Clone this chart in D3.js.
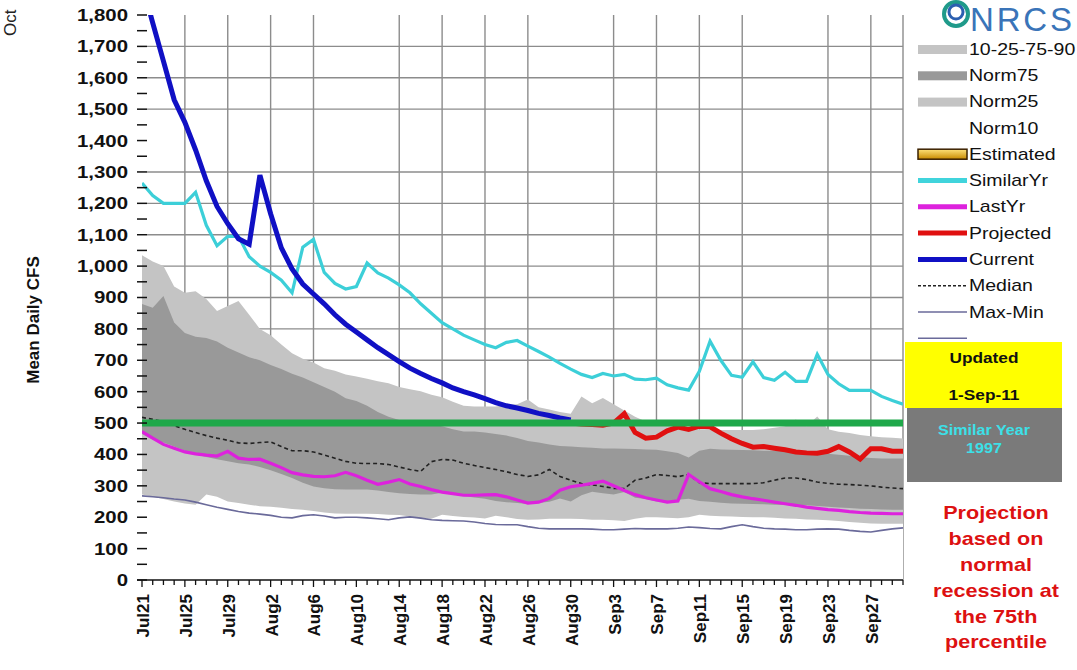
<!DOCTYPE html>
<html><head><meta charset="utf-8">
<script src="https://cdn.jsdelivr.net/npm/d3@7"></script>
<style>
body{margin:0;background:#fff;}
svg{display:block;font-family:"Liberation Sans",Arial,sans-serif;}
</style></head>
<body><svg id="c" width="1077" height="670"></svg>
<script>
// ---- data (day index 0 = Jul21 ... 71 = Sep30) ----
const startDate = new Date(2011, 6, 21);
const dayCount = 72;
const tickLabels = ["Jul21","Jul25","Jul29","Aug2","Aug6","Aug10","Aug14","Aug18","Aug22","Aug26","Aug30","Sep3","Sep7","Sep11","Sep15","Sep19","Sep23","Sep27"];
const yTicks = [0,100,200,300,400,500,600,700,800,900,1000,1100,1200,1300,1400,1500,1600,1700,1800];
const yGrid = [700,800,900,1000,1100,1200,1300,1500,1600,1700];
const xGrid = [4,8,12,16,24,28,32,36,44,48,52,56,64,68,71];

const p90 = [1035,1015,1000,935,915,920,895,857,873,889,845,800,780,750,722,705,693,675,667,655,648,641,633,627,615,608,601,590,582,568,555,553,553,553,558,560,575,550,543,535,530,585,563,580,560,540,520,505,500,495,490,485,480,480,478,478,478,478,480,485,490,511,490,521,480,472,468,462,458,455,453,451];
const p75 = [879,867,905,820,787,775,771,760,740,725,710,700,685,672,657,645,630,615,600,579,570,555,535,520,510,505,500,495,490,480,473,473,470,465,460,452,443,438,432,427,425,423,421,419,419,418,417,416,415,410,405,390,412,418,416,415,414,413,412,412,411,410,409,406,402,399,396,392,389,387,387,387];
const p25 = [465,448,438,425,412,400,392,385,378,372,368,360,350,338,325,310,298,292,289,288,288,288,285,280,276,274,272,272,278,272,268,263,259,252,248,245,242,245,249,260,250,270,281,276,272,280,262,258,250,252,256,259,252,249,246,244,243,242,241,240,240,240,238,236,233,231,229,227,226,225,224,224];
const p10 = [272,265,258,250,244,240,272,265,250,245,240,235,233,230,226,224,220,215,212,211,211,211,210,208,207,202,197,195,208,204,201,199,196,205,200,194,192,193,195,195,195,194,192,192,190,188,195,200,200,198,197,200,208,205,203,202,201,200,200,198,196,195,193,192,190,188,185,182,180,179,179,179];
const minFlow = [268,265,262,258,255,248,240,232,225,218,213,210,206,200,198,205,208,204,198,200,200,198,195,192,198,201,197,192,190,189,188,185,180,177,176,176,170,165,163,163,163,163,162,160,160,162,164,163,163,163,165,169,167,164,163,170,176,170,165,163,162,160,160,162,163,162,158,155,153,158,163,166];
const median = [518,512,505,492,480,470,460,452,445,437,435,438,440,425,412,412,408,398,388,378,372,371,371,368,360,352,346,377,384,382,372,365,358,352,345,336,330,335,352,330,318,307,303,298,292,291,318,325,336,333,329,336,310,307,307,307,307,307,310,318,325,325,320,312,308,305,304,302,300,296,293,291];
const similarYr = [1265,1225,1200,1200,1200,1235,1130,1065,1095,1095,1030,1000,980,955,915,1060,1085,980,945,927,935,1010,978,962,940,915,880,850,820,800,780,765,750,740,757,763,745,728,710,690,672,655,645,658,650,655,640,638,643,622,612,605,665,761,700,652,646,695,645,636,662,633,633,719,655,625,604,604,604,585,572,560];
const lastYr = [473,452,432,420,408,402,398,395,410,388,384,385,372,358,342,335,330,329,332,343,332,318,305,312,320,306,298,288,280,275,270,270,271,272,265,255,245,248,260,286,297,302,308,315,300,285,272,262,255,248,252,336,313,291,282,272,265,259,254,248,243,238,232,228,224,222,218,215,213,212,211,211];
const current = [1900,1775,1653,1530,1458,1370,1272,1190,1135,1087,1070,1290,1167,1058,991,943,911,880,845,815,790,765,740,718,696,675,658,642,628,612,600,590,578,565,555,548,540,531,524,516,510];
const projectedStart = 40;
const projected = [500,497,495,493,500,530,470,452,455,475,487,480,490,488,468,450,435,423,425,420,415,408,405,404,410,425,408,385,418,418,410,410];
const targetFlow = 500;

const legendLabels = ["10-25-75-90","Norm75","Norm25","Norm10","Estimated","SimilarYr","LastYr","Projected","Current","Median","Max-Min",""];
const legendKinds  = ["rect","rect","rect","none","est","line","line","line","line","dash","thin","thin"];
const legendColors = ["#c4c4c4","#999999","#c4c4c4","none","#d9a400","#40d4dc","#dd22dd","#e01010","#1010c4","#222","#6a6a9a","#6a6a9a"];
const noteLines = ["Projection","based on","normal","recession at","the 75th","percentile"];

// ---- layout ----
const svg = d3.select("#c");
const L = 142, R = 903, T = 15, B = 580;
const days = d3.range(dayCount);
const x = d3.scaleLinear().domain([0, dayCount - 1]).range([L, R]);
const y = d3.scaleLinear().domain([0, 1800]).range([B, T]);

const defs = svg.append("defs");
defs.append("clipPath").attr("id","plot").append("rect").attr("x",L).attr("y",T).attr("width",R-L).attr("height",B-T);
const grad = defs.append("linearGradient").attr("id","est").attr("x1",0).attr("x2",0).attr("y1",0).attr("y2",1);
grad.append("stop").attr("offset","0").attr("stop-color","#ffe27a");
grad.append("stop").attr("offset","1").attr("stop-color","#c88a00");

function stext(g, tx, ty, str, anchor, size, weight, fill, sx) {
  return g.append("text").attr("transform", `translate(${tx},${ty}) scale(${sx||1.2},1)`)
    .attr("text-anchor", anchor).attr("dy","0.35em")
    .style("font-size", size + "px").style("font-weight", weight).attr("fill", fill).text(str);
}

// grid
const grid = svg.append("g").attr("stroke","#8c8c8c").attr("stroke-width",1.4);
grid.selectAll("line.h").data(yGrid).join("line").attr("x1",L+5).attr("x2",R).attr("y1",d=>y(d)).attr("y2",d=>y(d));
grid.selectAll("line.v").data(xGrid).join("line").attr("x1",d=>x(d)).attr("x2",d=>x(d)).attr("y1",T).attr("y2",B);

// percentile bands
const plot = svg.append("g").attr("clip-path","url(#plot)");
const area = arr => d3.area().x((d,i)=>x(i)).y0(y(0)).y1(d=>y(d))(arr);
plot.append("path").attr("d", area(p90)).attr("fill","#c4c4c4");
plot.append("path").attr("d", area(p75)).attr("fill","#999999");
plot.append("path").attr("d", area(p25)).attr("fill","#c4c4c4");
plot.append("path").attr("d", area(p10)).attr("fill","#ffffff");

const line = (arr, off) => d3.line().x((d,i)=>x(i + (off||0))).y(d=>y(d))(arr);
plot.append("path").attr("d", line(median)).attr("fill","none").attr("stroke","#222").attr("stroke-width",1.6).attr("stroke-dasharray","4,3");
plot.append("path").attr("d", line(minFlow)).attr("fill","none").attr("stroke","#6a6a9a").attr("stroke-width",1.6);
plot.append("path").attr("d", line(lastYr)).attr("fill","none").attr("stroke","#dd22dd").attr("stroke-width",3.2);
plot.append("path").attr("d", line(similarYr)).attr("fill","none").attr("stroke","#3ccfd8").attr("stroke-width",3.2);
plot.append("path").attr("d", line(current)).attr("fill","none").attr("stroke","#1010c4").attr("stroke-width",5);
plot.append("path").attr("d", line(projected, projectedStart)).attr("fill","none").attr("stroke","#e01010").attr("stroke-width",5);
plot.append("line").attr("x1",x(0)).attr("x2",x(dayCount-1)).attr("y1",y(targetFlow)).attr("y2",y(targetFlow))
  .attr("stroke","#1fa84a").attr("stroke-width",7);

// y axis
const ya = svg.append("g");
ya.selectAll("line.maj").data(yTicks).join("line").attr("x1",L-5).attr("x2",L+5).attr("y1",d=>y(d)).attr("y2",d=>y(d)).attr("stroke","#111").attr("stroke-width",1.5);
ya.selectAll("line.min").data(yTicks.slice(0,-1).map(d=>d+50)).join("line").attr("x1",L-5).attr("x2",L+5).attr("y1",d=>y(d)).attr("y2",d=>y(d)).attr("stroke","#111").attr("stroke-width",1.5);
yTicks.forEach(v => stext(ya, 128, y(v), d3.format(",")(v), "end", 17, "bold", "#111", 1.2));

// x axis
const xa = svg.append("g");
xa.append("line").attr("x1",L-5).attr("x2",R).attr("y1",B).attr("y2",B).attr("stroke","#111").attr("stroke-width",1.5);
xa.selectAll("line.t").data(days).join("line").attr("x1",d=>x(d)).attr("x2",d=>x(d)).attr("y1",B).attr("y2",d=> d%4===0 ? B+7 : B+5).attr("stroke","#111").attr("stroke-width",1.3);
xa.selectAll("text").data(tickLabels).join("text")
  .attr("transform",(d,i)=>`translate(${x(i*4)+1},${B+14}) rotate(-90)`)
  .attr("text-anchor","end").attr("dy","0.35em").style("font-size","17px").style("font-weight","bold").attr("fill","#111").text(d=>d);

svg.append("text").attr("transform","translate(33,320) rotate(-90)").attr("text-anchor","middle").attr("dy","0.35em")
  .style("font-size","17px").style("font-weight","bold").attr("fill","#111").text("Mean Daily CFS");
svg.append("text").attr("transform","translate(10,36) rotate(-90)").attr("text-anchor","start").attr("dy","0.35em")
  .style("font-size","17px").attr("fill","#222").text("Oct");

// NRCS logo
const logo = svg.append("g");
logo.append("circle").attr("cx",956).attr("cy",14).attr("r",12).attr("fill","none").attr("stroke","#1f9a8a").attr("stroke-width",4);
logo.append("circle").attr("cx",956).attr("cy",12).attr("r",7).attr("fill","none").attr("stroke","#2b5fb0").attr("stroke-width",3);
logo.append("text").attr("x",970).attr("y",31).style("font-size","33px").attr("fill","#3a74b8").attr("textLength",102).text("NRCS");

// legend
const lg = svg.append("g");
const LX = 918, LW = 49, LY0 = 49, LS = 26.3;
legendLabels.forEach((lab, i) => {
  const cy = LY0 + i * LS, k = legendKinds[i], c = legendColors[i];
  if (k === "rect") lg.append("rect").attr("x",LX).attr("y",cy-4).attr("width",LW).attr("height",9).attr("fill",c);
  if (k === "est") lg.append("rect").attr("x",LX).attr("y",cy-5).attr("width",LW).attr("height",10).attr("fill","url(#est)").attr("stroke","#3a2000").attr("stroke-width",1.5);
  if (k === "line") lg.append("line").attr("x1",LX).attr("x2",LX+LW).attr("y1",cy).attr("y2",cy).attr("stroke",c).attr("stroke-width",5);
  if (k === "dash") lg.append("line").attr("x1",LX).attr("x2",LX+LW).attr("y1",cy).attr("y2",cy).attr("stroke",c).attr("stroke-width",1.4).attr("stroke-dasharray","3,2");
  if (k === "thin") lg.append("line").attr("x1",LX).attr("x2",LX+LW).attr("y1",cy).attr("y2",cy).attr("stroke",c).attr("stroke-width",1.6);
  if (lab) stext(lg, LX + LW + 2, cy, lab, "start", 16, "normal", "#111", 1.22);
});

// info boxes
const info = svg.append("g");
info.append("rect").attr("x",905).attr("y",342).attr("width",157).attr("height",66).attr("fill","#ffff00");
info.append("rect").attr("x",907).attr("y",408).attr("width",155).attr("height",74).attr("fill","#7a7a7a");
stext(info, 984, 358, "Updated", "middle", 15, "bold", "#111", 1.15);
stext(info, 984, 395, "1-Sep-11", "middle", 15, "bold", "#111", 1.15);
stext(info, 984, 430, "Similar Year", "middle", 14, "bold", "#3ce0e8", 1.15);
stext(info, 984, 448, "1997", "middle", 14, "bold", "#3ce0e8", 1.15);
noteLines.forEach((t, i) => stext(info, 996, 513 + i * 25.8, t, "middle", 18, "bold", "#dd1111", 1.2));
</script></body></html>
